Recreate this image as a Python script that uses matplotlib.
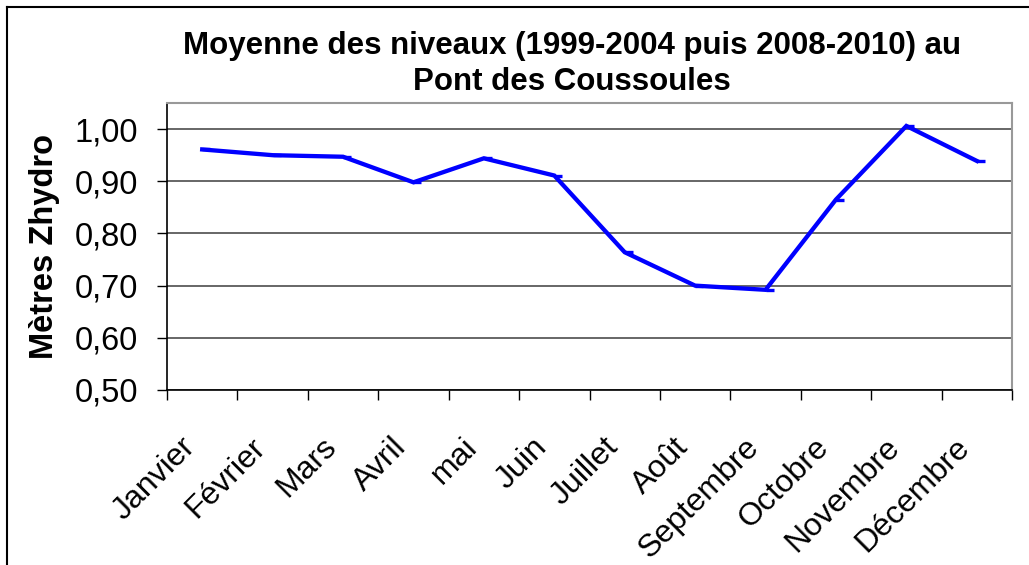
import matplotlib
matplotlib.use("Agg")
import matplotlib.pyplot as plt
import matplotlib.transforms as mtransforms
from matplotlib.path import Path
from matplotlib.lines import Line2D

months = ["Janvier", "Février", "Mars", "Avril", "mai", "Juin", "Juillet",
          "Août", "Septembre", "Octobre", "Novembre", "Décembre"]
levels = [0.961, 0.950, 0.947, 0.898, 0.944, 0.911, 0.764,
          0.700, 0.692, 0.865, 1.006, 0.939]
yticks = [0.50, 0.60, 0.70, 0.80, 0.90, 1.00]
ytick_labels = ["0,50", "0,60", "0,70", "0,80", "0,90", "1,00"]

plt.rcParams['font.family'] = ['Liberation Sans', 'DejaVu Sans']

W, H = 1029, 565
fig = plt.figure(figsize=(W / 100, H / 100), dpi=100)
ax = fig.add_axes([167 / W, 1 - 390 / H, (1012 - 167) / W, (390 - 103) / H])

x = list(range(len(months)))
dash = Path([(0, 0), (1, 0)], [Path.MOVETO, Path.LINETO])
ax.plot(x, levels, color="#0000FF", lw=3.1, marker=dash, markersize=11,
        markeredgewidth=2.4, solid_joinstyle="miter", zorder=3)

ax.set_xlim(-0.5, len(months) - 0.5)
ax.set_ylim(0.5, 1.05)
ax.set_yticks(yticks)
ax.set_yticklabels(ytick_labels, fontsize=23.5)
ax.yaxis.grid(True, color="#4d4d4d", lw=1.2)
ax.set_axisbelow(True)

# category boundary ticks
ax.set_xticks([i - 0.5 for i in range(len(months) + 1)])
ax.set_xticklabels([])
ax.tick_params(axis="x", which="major", length=7, width=1, direction="out")
ax.tick_params(axis="y", length=7, width=1, direction="out", pad=14)

# rotated category labels, placed like the spreadsheet output
base = mtransforms.blended_transform_factory(ax.transData, ax.transAxes)
off = mtransforms.ScaledTranslation(-22 / 100, -42 / 100, fig.dpi_scale_trans)
for i, m in enumerate(months):
    ax.text(i, 0, m, transform=base + off, rotation=45, ha="right", va="top",
            rotation_mode="anchor", fontsize=23, clip_on=False)

for s in ["left", "bottom"]:
    ax.spines[s].set_color("black")
    ax.spines[s].set_linewidth(1.2)
for s in ["top", "right"]:
    ax.spines[s].set_color("#999999")
    ax.spines[s].set_linewidth(1.5)

ax.set_ylabel("Mètres Zhydro", fontsize=23.5, fontweight="bold", labelpad=10)

fig.text(572 / W, 1 - 64 / H,
         "Moyenne des niveaux (1999-2004 puis 2008-2010) au\nPont des Coussoules",
         ha="center", va="center", fontsize=22.5, fontweight="bold",
         linespacing=1.25)

# figure border (left and top edges visible)
fig.add_artist(Line2D([7 / W, 7 / W], [0, 1 - 7 / H], color="black", lw=1.5,
                      transform=fig.transFigure))
fig.add_artist(Line2D([7 / W, 1], [1 - 7 / H, 1 - 7 / H], color="black", lw=1.5,
                      transform=fig.transFigure))

fig.savefig("out.png", dpi=100)
